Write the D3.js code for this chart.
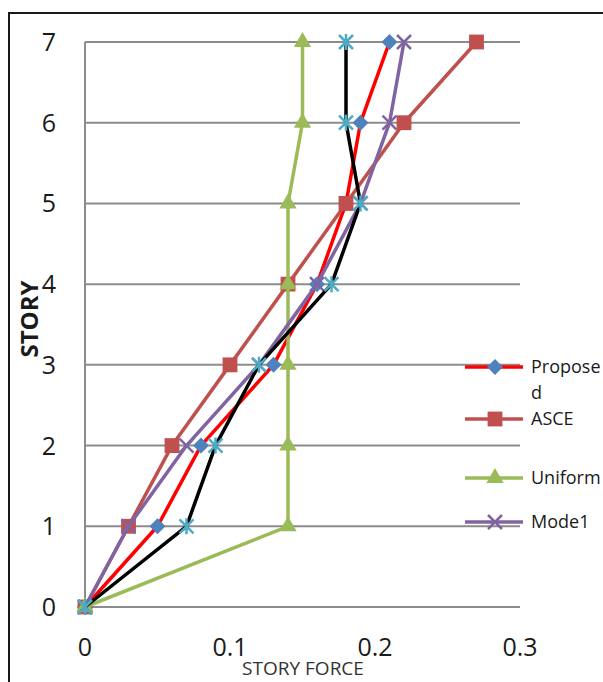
<!DOCTYPE html>
<html>
<head>
<meta charset="utf-8">
<script src="https://cdn.jsdelivr.net/npm/d3@7"></script>
<style>
  html, body { margin: 0; padding: 0; background: #fff; }
  svg { display: block; font-family: "Open Sans", sans-serif; }
</style>
</head>
<body>
<svg id="chart" width="603" height="682"></svg>
<script>
// Story levels and lateral force distributions
const stories = [0, 1, 2, 3, 4, 5, 6, 7];
const proposed = [0, 0.05, 0.08, 0.13, 0.16, 0.18, 0.19, 0.21];
const asce = [0, 0.03, 0.06, 0.10, 0.14, 0.18, 0.22, 0.27];
const uniform = [0, 0.14, 0.14, 0.14, 0.14, 0.14, 0.15, 0.15];
const mode1 = [0, 0.03, 0.07, 0.12, 0.16, 0.19, 0.21, 0.22];
const series5 = [0, 0.07, 0.09, 0.12, 0.17, 0.19, 0.18, 0.18];
const xTicks = [0, 0.1, 0.2, 0.3];
const yTicks = [0, 1, 2, 3, 4, 5, 6, 7];

const svg = d3.select("#chart");

// outer chart border
svg.append("rect")
  .attr("x", 9).attr("y", 13)
  .attr("width", 610).attr("height", 690)
  .attr("fill", "#fff").attr("stroke", "#1a1a1a").attr("stroke-width", 2);

const x = d3.scaleLinear().domain([0, 0.3]).range([85, 520]);
const y = d3.scaleLinear().domain([0, 7]).range([607, 42]);

// horizontal gridlines
svg.append("g").selectAll("line").data(yTicks).join("line")
  .attr("x1", x(0)).attr("x2", x(0.3))
  .attr("y1", d => y(d)).attr("y2", d => y(d))
  .attr("stroke", "#8c8c8c").attr("stroke-width", 2);

// vertical axis line
svg.append("line")
  .attr("x1", x(0)).attr("x2", x(0))
  .attr("y1", y(0)).attr("y2", y(7))
  .attr("stroke", "#8c8c8c").attr("stroke-width", 2);

// tick labels
svg.append("g").selectAll("text").data(yTicks).join("text")
  .attr("x", 49).attr("y", d => y(d))
  .attr("dy", "0.36em")
  .attr("text-anchor", "middle")
  .attr("font-size", 25).attr("fill", "#1a1a1a")
  .text(d => d);

svg.append("g").selectAll("text").data(xTicks).join("text")
  .attr("x", d => x(d)).attr("y", 647)
  .attr("dy", "0.36em")
  .attr("text-anchor", "middle")
  .attr("font-size", 25).attr("fill", "#1a1a1a")
  .text(d => d3.format("")(d));

// axis titles
svg.append("text")
  .attr("transform", "translate(38,319) rotate(-90)")
  .attr("text-anchor", "middle")
  .attr("font-size", 24).attr("font-weight", "bold").attr("fill", "#1a1a1a")
  .text("STORY");

svg.append("text")
  .attr("x", 303).attr("y", 668)
  .attr("dy", "0.36em")
  .attr("text-anchor", "middle")
  .attr("font-size", 19).attr("fill", "#333")
  .text("STORY FORCE");

// marker shapes
const markerPath = {
  diamond: "M0,-8L8,0L0,8L-8,0Z",
  square: d3.symbol().type(d3.symbolSquare).size(220)(),
  triangle: d3.symbol().type(d3.symbolTriangle).size(130)(),
  cross: "M-7,-7L7,7M-7,7L7,-7",
  star: "M-7,-7L7,7M-7,7L7,-7M0,-8L0,8"
};

const series = [
  { name: "Proposed", values: proposed, line: "#ff0000", fill: "#4f81bd", stroke: "none", shape: "diamond" },
  { name: "ASCE", values: asce, line: "#c0504d", fill: "#c0504d", stroke: "none", shape: "square" },
  { name: "Uniform", values: uniform, line: "#9bbb59", fill: "#9bbb59", stroke: "none", shape: "triangle" },
  { name: "Mode1", values: mode1, line: "#8064a2", fill: "none", stroke: "#8064a2", shape: "cross" },
  { name: "", values: series5, line: "#000000", fill: "none", stroke: "#4bacc6", shape: "star" }
];

const line = d3.line()
  .x(d => x(d.v))
  .y(d => y(d.s));

const plot = svg.append("g");
series.forEach(sr => {
  const pts = stories.map((s, i) => ({ s, v: sr.values[i] }));
  plot.append("path")
    .datum(pts)
    .attr("d", line)
    .attr("fill", "none")
    .attr("stroke", sr.line)
    .attr("stroke-width", 3.5)
    .attr("stroke-linejoin", "round");
  plot.append("g").selectAll("path").data(pts).join("path")
    .attr("transform", d => `translate(${x(d.v)},${y(d.s)})`)
    .attr("d", markerPath[sr.shape])
    .attr("fill", sr.fill)
    .attr("stroke", sr.stroke)
    .attr("stroke-width", 2.5);
});

// legend
const legendItems = [
  { s: series[0], y: 367, lines: ["Propose", "d"] },
  { s: series[1], y: 419, lines: ["ASCE"] },
  { s: series[2], y: 478, lines: ["Uniform"] },
  { s: series[3], y: 522, lines: ["Mode1"] }
];
const lg = svg.append("g");
legendItems.forEach(it => {
  lg.append("line")
    .attr("x1", 465).attr("x2", 523)
    .attr("y1", it.y).attr("y2", it.y)
    .attr("stroke", it.s.line).attr("stroke-width", 3.5);
  lg.append("path")
    .attr("transform", `translate(495,${it.y})`)
    .attr("d", markerPath[it.s.shape])
    .attr("fill", it.s.fill)
    .attr("stroke", it.s.stroke)
    .attr("stroke-width", 2.5);
  it.lines.forEach((t, k) => {
    lg.append("text")
      .attr("x", 531).attr("y", it.y + k * 26)
      .attr("dy", "0.36em")
      .attr("font-size", 18).attr("fill", "#1a1a1a")
      .text(t);
  });
});
</script>
</body>
</html>
